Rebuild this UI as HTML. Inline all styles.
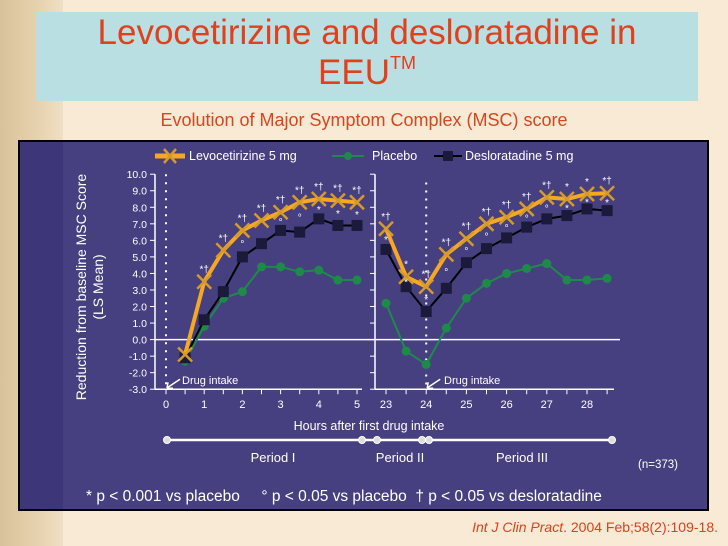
<!DOCTYPE html>
<html><head><meta charset="utf-8"><style>
html,body{margin:0;padding:0;}
body{width:728px;height:546px;overflow:hidden;background:#f9ead5;font-family:"Liberation Sans",sans-serif;position:relative;}
</style></head><body>
<div style="position:absolute;left:0;top:0;width:63px;height:546px;background:linear-gradient(90deg,#d9c29a,#e6d2ae 60%,#efdfc4);"></div>
<div style="position:absolute;left:36px;top:12px;width:662px;height:89px;background:#b9dfe3;"></div>
<div style="position:absolute;left:36px;top:13px;width:662px;text-align:center;color:#e0401c;font-size:35px;line-height:40px;">Levocetirizine and desloratadine in<br>EEU<sup style="font-size:18px;vertical-align:top;line-height:20px;">TM</sup></div>
<div style="position:absolute;left:0;top:110px;width:728px;text-align:center;color:#d8461e;font-size:18px;">Evolution of Major Symptom Complex (MSC) score</div>
<svg id="chart" width="728" height="546" style="position:absolute;left:0;top:0;" xmlns="http://www.w3.org/2000/svg" font-family="Liberation Sans, sans-serif">
<rect x="19" y="141" width="689" height="369" fill="#463f80" stroke="#000" stroke-width="2"/>
<rect x="20" y="142" width="43" height="367" fill="#3d3678"/>
<g id="plot"></g>
</svg>
<div style="position:absolute;right:10px;top:519px;color:#e0401c;font-size:14px;"><i>Int J Clin Pract</i>. 2004 Feb;58(2):109-18.</div>
<script>
const yTicks=[10,9,8,7,6,5,4,3,2,1,0,-1,-2,-3];
const xTicksLeft=[0,1,2,3,4,5];
const xTicksRight=[23,24,25,26,27,28];
const timesLeft=[0.5,1,1.5,2,2.5,3,3.5,4,4.5,5];
const timesRight=[23,23.5,24,24.5,25,25.5,26,26.5,27,27.5,28,28.5];
const levoLeft=[-0.9,3.5,5.4,6.6,7.2,7.7,8.3,8.5,8.4,8.3];
const desloLeft=[-1.1,1.2,2.9,5.0,5.8,6.6,6.5,7.3,6.9,6.9];
const placeboLeft=[-1.3,0.8,2.5,2.9,4.4,4.4,4.1,4.2,3.6,3.6];
const levoRight=[6.7,3.8,3.2,5.15,6.1,7.0,7.4,7.9,8.6,8.5,8.8,8.85];
const desloRight=[5.45,3.2,1.7,3.1,4.65,5.5,6.15,6.8,7.3,7.5,7.9,7.8];
const placeboRight=[2.2,-0.7,-1.5,0.7,2.5,3.4,4.0,4.3,4.6,3.6,3.6,3.7];
const topMarkLeft=["","*†","*†","*†","*†","*†","*†","*†","*†","*†"];
const midMarkLeft=["","","","°","","°","°","*","*","*"];
const topMarkRight=["*†","*","*†","*†","*†","*†","*†","*†","*†","*","*","*†"];
const midMarkRight=["*","*","*","°","°","°","°","°","°","*","*","*"];

const NS="http://www.w3.org/2000/svg";
const g=document.getElementById('plot');
function el(t,a,p){const e=document.createElementNS(NS,t);for(const k in a)e.setAttribute(k,a[k]);(p||g).appendChild(e);return e;}
const Y=v=>339.6-v*16.54;
const XL=t=>166+t*38.2;
const XR=t=>386+(t-23)*40.2;

let ax=el('line',{x1:155,y1:Y(10),x2:155,y2:Y(-3),stroke:'#fff','stroke-width':1.5});


yTicks.forEach(v=>{
 el('line',{x1:150,x2:155,y1:Y(v),y2:Y(v),stroke:'#fff'});
 el('line',{x1:370,x2:375,y1:Y(v),y2:Y(v),stroke:'#fff'});
 const t=el('text',{x:147,y:Y(v)+4,'text-anchor':'end',fill:'#fff','font-size':10.5});
 t.textContent=v.toFixed(1);
 
 
});
el('line',{x1:375,y1:Y(10),x2:375,y2:Y(-3),stroke:'#fff','stroke-width':1.5});
el('line',{x1:155,y1:Y(-3),x2:362,y2:Y(-3),stroke:'#fff','stroke-width':1.5});
el('line',{x1:375,y1:Y(-3),x2:614,y2:Y(-3),stroke:'#fff','stroke-width':1.5});
el('line',{x1:155,y1:Y(0),x2:620,y2:Y(0),stroke:'#fff','stroke-width':1.5});
for(let t=0;t<=5;t+=0.5)el('line',{x1:XL(t),x2:XL(t),y1:Y(-3),y2:Y(-3)+5,stroke:'#fff'});
for(let t=23;t<=28.5;t+=0.5)el('line',{x1:XR(t),x2:XR(t),y1:Y(-3),y2:Y(-3)+5,stroke:'#fff'});
xTicksLeft.forEach(v=>{const t=el('text',{x:XL(v),y:408,'text-anchor':'middle',fill:'#fff','font-size':11});t.textContent=v;

});
xTicksRight.forEach(v=>{const t=el('text',{x:XR(v),y:408,'text-anchor':'middle',fill:'#fff','font-size':11});t.textContent=v;

});
el('line',{x1:XL(0),x2:XL(0),y1:Y(10),y2:Y(-3),stroke:'#fff','stroke-width':2,'stroke-dasharray':'2,6'});
el('line',{x1:XR(24),x2:XR(24),y1:Y(9.5),y2:Y(-3),stroke:'#fff','stroke-width':2,'stroke-dasharray':'2,6'});
[[XL(0),182],[XR(24),444]].forEach(([x,tx])=>{
 el('path',{d:`M${x+2} ${Y(-3)-2} L${x+14} ${Y(-3)-10}`,stroke:'#fff','stroke-width':1.5,fill:'none'});
 el('path',{d:`M${x+1} ${Y(-3)-1} l6 0 M${x+1} ${Y(-3)-1} l1 -6`,stroke:'#fff','stroke-width':1.5});
 const t=el('text',{x:tx,y:384,fill:'#fff','font-size':11});t.textContent='Drug intake';
 
 
});
function series(times,vals,X,color,w,marker,name){
 const p=el('polyline',{points:times.map((t,i)=>X(t)+','+Y(vals[i])).join(' '),fill:'none',stroke:color,'stroke-width':w,'stroke-linejoin':'round'});
 
 
 times.forEach((t,i)=>{
  const x=X(t),y=Y(vals[i]);let m;
  if(marker==='sq')m=el('rect',{x:x-5.5,y:y-5.5,width:11,height:11,fill:'#1c1a3a'});
  else if(marker==='dot')m=el('circle',{cx:x,cy:y,r:4.5,fill:'#1e8a4a'});
  else m=el('path',{d:`M${x-7} ${y-7}L${x+7} ${y+7}M${x+7} ${y-7}L${x-7} ${y+7}`,stroke:'#d59a2a','stroke-width':2.5});
  
  
 });
}
series(timesLeft,placeboLeft,XL,'#1e8a4a',2,'dot','placebo');
series(timesRight,placeboRight,XR,'#1e8a4a',2,'dot','placebo');
series(timesLeft,desloLeft,XL,'#000',2,'sq','desloratadine');
series(timesRight,desloRight,XR,'#000',2,'sq','desloratadine');
series(timesLeft,levoLeft,XL,'#f6a823',4,'x','levocetirizine');
series(timesRight,levoRight,XR,'#f6a823',4,'x','levocetirizine');
function marks(times,levo,deslo,top,mid,X){
 times.forEach((t,i)=>{
  if(top[i]){const a=el('text',{x:X(t),y:Y(levo[i])-9,'text-anchor':'middle',fill:'#fff','font-size':10});a.textContent=top[i];}
  if(mid[i]){const a=el('text',{x:X(t),y:(Y(levo[i])+Y(deslo[i]))/2+4,'text-anchor':'middle',fill:'#fff','font-size':10});a.textContent=mid[i];}
 });
}
marks(timesLeft,levoLeft,desloLeft,topMarkLeft,midMarkLeft,XL);
marks(timesRight,levoRight,desloRight,topMarkRight,midMarkRight,XR);
const lg=el('g',{});
el('line',{x1:155,x2:185,y1:156,y2:156,stroke:'#f6a823','stroke-width':5},lg);
el('path',{d:'M164 149L176 163M176 149L164 163',stroke:'#d59a2a','stroke-width':2.5},lg);
let t=el('text',{x:189,y:160,fill:'#fff','font-size':12.5},lg);t.textContent='Levocetirizine 5 mg';
el('line',{x1:332,x2:364,y1:156,y2:156,stroke:'#1e8a4a','stroke-width':2},lg);
el('circle',{cx:348,cy:156,r:4,fill:'#1e8a4a'},lg);
t=el('text',{x:372,y:160,fill:'#fff','font-size':12.5},lg);t.textContent='Placebo';
el('line',{x1:434,x2:462,y1:156,y2:156,stroke:'#000','stroke-width':2},lg);
el('rect',{x:443,y:151,width:10,height:10,fill:'#1c1a3a'},lg);
t=el('text',{x:465,y:160,fill:'#fff','font-size':12.5},lg);t.textContent='Desloratadine 5 mg';
t=el('text',{x:0,y:0,fill:'#fff','font-size':14,'text-anchor':'middle',transform:'translate(86,287) rotate(-90)'});t.textContent='Reduction from baseline MSC Score';

t=el('text',{x:0,y:0,fill:'#fff','font-size':14,'text-anchor':'middle',transform:'translate(103,287) rotate(-90)'});t.textContent='(LS Mean)';
t=el('text',{x:369,y:430,fill:'#fff','font-size':12.5,'text-anchor':'middle'});t.textContent='Hours after first drug intake';

el('line',{x1:167,x2:612,y1:440,y2:440,stroke:'#fff','stroke-width':2.5});
[167,362,377,422,429,612].forEach(x=>el('circle',{cx:x,cy:440,r:3.5,fill:'#ddd',stroke:'#fff'}));
[['Period I',273],['Period II',400],['Period III',522]].forEach(([s,x])=>{t=el('text',{x:x,y:462,fill:'#fff','font-size':13,'text-anchor':'middle'});t.textContent=s;
});
t=el('text',{x:638,y:468,fill:'#fff','font-size':11.5});t.textContent='(n=373)';
t=el('text',{x:86,y:501,fill:'#fff','font-size':15.5});t.textContent='* p < 0.001 vs placebo     ° p < 0.05 vs placebo  † p < 0.05 vs desloratadine';
t.setAttribute('xml:space','preserve');t.setAttribute('style','white-space:pre');

</script>
</body></html>
